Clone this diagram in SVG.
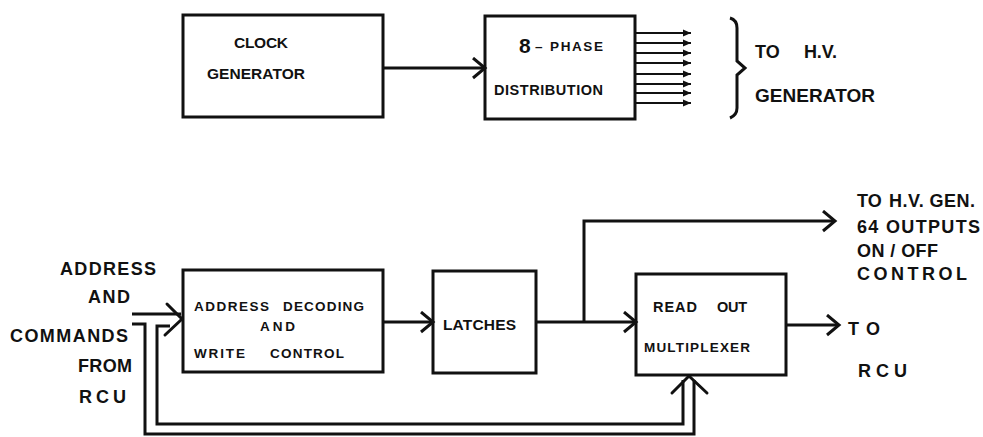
<svg xmlns="http://www.w3.org/2000/svg" width="983" height="437" viewBox="0 0 983 437">
<style>
.box{fill:none;stroke:#111;stroke-width:3}
.ln{fill:none;stroke:#111;stroke-width:3;stroke-linejoin:miter}
.thin{fill:none;stroke:#111;stroke-width:2}
.chev{fill:none;stroke:#111;stroke-width:3;stroke-linecap:round;stroke-linejoin:miter}
text{font-family:"Liberation Sans",Arial,sans-serif;font-weight:bold;fill:#111}
.s13{font-size:13.5px}
.s14{font-size:14.5px}
.s15{font-size:15.5px}
.s17{font-size:18px}
.s18{font-size:19px}
</style>
<defs>
<marker id="chev" markerUnits="userSpaceOnUse" markerWidth="16" markerHeight="24" refX="13" refY="11" orient="auto">
<path d="M1,1 L13,11 L1,21" fill="none" stroke="#111" stroke-width="3"/>
</marker>
<marker id="small" markerUnits="userSpaceOnUse" markerWidth="9" markerHeight="8" refX="8" refY="4" orient="auto">
<path d="M0,0.5 L8,4 L0,7.5 Z" fill="#111"/>
</marker>
</defs>
<rect width="983" height="437" fill="#fff"/>

<g id="clock">
<rect class="box" x="183" y="15" width="200" height="102"/>
<text class="s15" x="234" y="48" textLength="54" lengthAdjust="spacing">CLOCK</text>
<text class="s15" x="207" y="79" textLength="98" lengthAdjust="spacing">GENERATOR</text>
</g>

<g id="phase">
<rect class="box" x="485" y="16" width="150" height="103"/>
<text x="519" y="53" style="font-size:21px">8</text>
<text class="s13" x="535" y="51">–</text>
<text class="s13" x="550" y="51" textLength="53" lengthAdjust="spacing">PHASE</text>
<text class="s14" x="494" y="95" textLength="109" lengthAdjust="spacing">DISTRIBUTION</text>
</g>

<g id="hvgen">
<path class="ln" d="M730,18 Q737,20 737,28 V61 L745,68 L737,75 V108 Q737,115 730,118"/>
<text class="s17" x="755" y="58">TO</text>
<text class="s17" x="804" y="58" textLength="33" lengthAdjust="spacing">H.V.</text>
<text class="s18" x="755" y="102" textLength="120" lengthAdjust="spacing">GENERATOR</text>
</g>

<g id="inputs">
<text class="s17" x="60" y="275" textLength="96" lengthAdjust="spacing">ADDRESS</text>
<text class="s17" x="88" y="303" textLength="42" lengthAdjust="spacing">AND</text>
<text class="s17" x="10" y="342" textLength="118" lengthAdjust="spacing">COMMANDS</text>
<text class="s17" x="78" y="372" textLength="54" lengthAdjust="spacing">FROM</text>
<text class="s17" x="79" y="403" textLength="47" lengthAdjust="spacing">RCU</text>
</g>

<g id="decoder">
<rect class="box" x="183" y="270" width="200" height="102"/>
<text class="s13" x="194" y="311" textLength="75" lengthAdjust="spacing">ADDRESS</text>
<text class="s13" x="283" y="311" textLength="81" lengthAdjust="spacing">DECODING</text>
<text class="s13" x="260" y="331" textLength="35" lengthAdjust="spacing">AND</text>
<text class="s13" x="194" y="358" textLength="51" lengthAdjust="spacing">WRITE</text>
<text class="s13" x="270" y="358" textLength="74" lengthAdjust="spacing">CONTROL</text>
</g>

<g id="latches">
<rect class="box" x="433" y="271" width="103" height="102"/>
<text class="s15" x="443" y="330" textLength="73" lengthAdjust="spacing">LATCHES</text>
</g>

<g id="mux">
<rect class="box" x="636" y="274" width="150" height="101"/>
<text class="s14" x="653" y="312" textLength="44" lengthAdjust="spacing">READ</text>
<text class="s14" x="717" y="312" textLength="30" lengthAdjust="spacing">OUT</text>
<text class="s13" x="644" y="352" textLength="106" lengthAdjust="spacing">MULTIPLEXER</text>
</g>

<g id="hvout">
<text class="s17" x="857" y="207">TO</text>
<text class="s17" x="889" y="207" textLength="86" lengthAdjust="spacing">H.V. GEN.</text>
<text class="s17" x="857" y="233" textLength="123" lengthAdjust="spacing">64 OUTPUTS</text>
<text class="s17" x="857" y="257" textLength="81" lengthAdjust="spacing">ON / OFF</text>
<text class="s17" x="857" y="280" textLength="110" lengthAdjust="spacing">CONTROL</text>
</g>

<g id="rcuout">
<text class="s17" x="848" y="335" textLength="32" lengthAdjust="spacing">TO</text>
<text class="s17" x="858" y="377" textLength="49" lengthAdjust="spacing">RCU</text>
</g>

<g id="connectors">
<path class="ln" d="M383,68 H485" marker-end="url(#chev)"/>
<g class="thin">
<path d="M635,33 H691" marker-end="url(#small)"/>
<path d="M635,43 H691" marker-end="url(#small)"/>
<path d="M635,53 H691" marker-end="url(#small)"/>
<path d="M635,63 H691" marker-end="url(#small)"/>
<path d="M635,74 H691" marker-end="url(#small)"/>
<path d="M635,84 H691" marker-end="url(#small)"/>
<path d="M635,93 H691" marker-end="url(#small)"/>
<path d="M635,103 H691" marker-end="url(#small)"/>
</g>
<path class="ln" d="M132,314 H181"/>
<path class="chev" d="M167,304 L182,319 L165,335"/>
<path class="ln" d="M132,324 H145 V434 H694 V380"/>
<path class="ln" d="M170,326 H157 V424 H683 V380"/>
<path class="chev" d="M672,393 L689,376 L707,393"/>
<path class="ln" d="M383,322 H433" marker-end="url(#chev)"/>
<path class="ln" d="M536,322 H636" marker-end="url(#chev)"/>
<path class="ln" d="M584,322 V221 H835" marker-end="url(#chev)"/>
<path class="ln" d="M786,325 H839" marker-end="url(#chev)"/>
</g>
</svg>
